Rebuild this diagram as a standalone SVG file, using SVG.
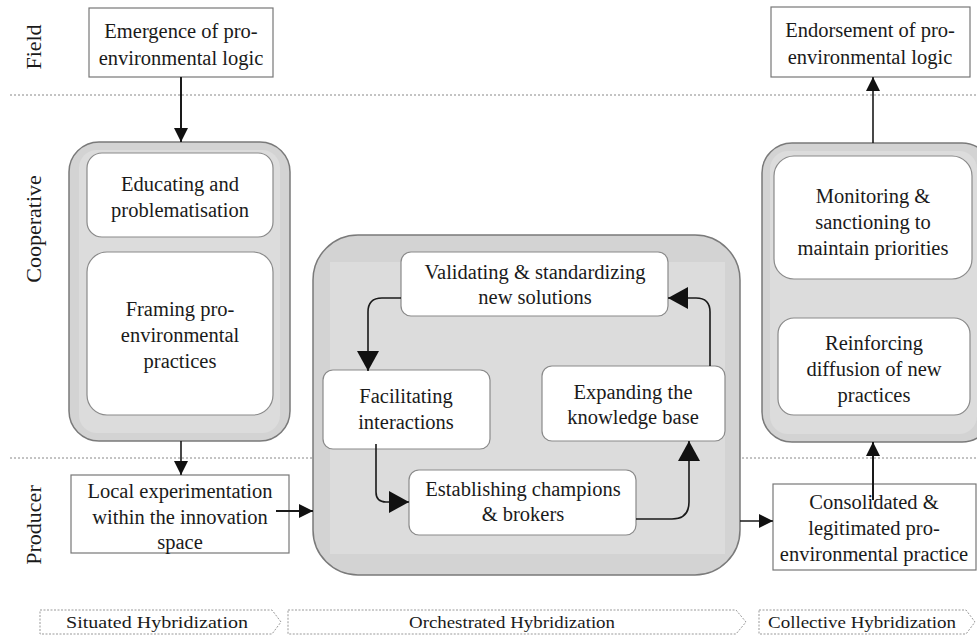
<svg xmlns="http://www.w3.org/2000/svg" width="977" height="638" viewBox="0 0 977 638">
<style>
text{font-family:"Liberation Serif","Times New Roman",serif;fill:#1a1a1a;font-size:20.5px;text-anchor:middle}
.lane{font-size:22px}
.phase{font-size:17px}
.box{fill:#fff;stroke:#777;stroke-width:1.2}
.rbox{fill:#fff;stroke:#8a8a8a;stroke-width:1.2}
.cont{fill:#d3d3d3;stroke:#7a7a7a;stroke-width:1.5}
.inner{fill:#dcdcdc}
.sep{stroke:#888;stroke-width:1;stroke-dasharray:2 2;fill:none}
.con{fill:none;stroke:#1a1a1a;stroke-width:1.6}
.conb{fill:none;stroke:#1a1a1a;stroke-width:2}
.ph{fill:#fff;stroke:#999;stroke-width:1;stroke-dasharray:2 1.5}
</style>
<defs>
<marker id="ah" markerUnits="userSpaceOnUse" markerWidth="14" markerHeight="14" viewBox="0 0 14 14" refX="14" refY="7" orient="auto">
<path d="M0,0 L14,7 L0,14 Z" fill="#111"/>
</marker>
<marker id="ahL" markerUnits="userSpaceOnUse" markerWidth="22" markerHeight="22" viewBox="0 0 22 22" refX="20" refY="11" orient="auto">
<path d="M0,0 L20,11 L0,22 Z" fill="#111"/>
</marker>
</defs>

<g id="lanes">
<line class="sep" x1="10" y1="95" x2="977" y2="95"/>
<line class="sep" x1="10" y1="458" x2="977" y2="458"/>
<text class="lane" transform="translate(41,47) rotate(-90)">Field</text>
<text class="lane" transform="translate(41,229) rotate(-90)">Cooperative</text>
<text class="lane" transform="translate(41,525) rotate(-90)">Producer</text>
</g>

<g id="cont-left">
<rect class="cont" x="69" y="142" width="221" height="299" rx="30"/>
<rect class="inner" x="79" y="150" width="201" height="283" rx="18"/>
</g>
<g id="cont-mid">
<rect class="cont" x="313" y="235" width="427" height="340" rx="45"/>
<rect class="inner" x="330" y="262" width="395" height="292"/>
</g>
<g id="cont-right">
<rect class="cont" x="762" y="143" width="230" height="299" rx="30"/>
<rect class="inner" x="770" y="151" width="207" height="283" rx="18"/>
</g>

<g id="n-emergence">
<rect class="box" x="89" y="8" width="184" height="69"/>
<text x="181" y="38">Emergence of pro-</text>
<text x="181" y="65">environmental logic</text>
</g>
<g id="n-endorsement">
<rect class="box" x="771" y="7" width="199" height="70"/>
<text x="870" y="37">Endorsement of pro-</text>
<text x="870" y="64">environmental logic</text>
</g>
<g id="n-educating">
<rect class="rbox" x="87" y="153" width="186" height="84" rx="15"/>
<text x="180" y="191">Educating and</text>
<text x="180" y="217">problematisation</text>
</g>
<g id="n-framing">
<rect class="rbox" x="87" y="252" width="186" height="163" rx="20"/>
<text x="180" y="316">Framing pro-</text>
<text x="180" y="342">environmental</text>
<text x="180" y="368">practices</text>
</g>
<g id="n-local">
<rect class="box" x="71" y="475" width="218" height="78"/>
<text x="180" y="498">Local experimentation</text>
<text x="180" y="524">within the innovation</text>
<text x="180" y="549">space</text>
</g>
<g id="n-validating">
<rect class="rbox" x="401" y="252" width="267" height="64" rx="10"/>
<text x="535" y="279">Validating &amp; standardizing</text>
<text x="535" y="304">new solutions</text>
</g>
<g id="n-facilitating">
<rect class="rbox" x="323" y="370" width="167" height="79" rx="10"/>
<text x="406" y="403">Facilitating</text>
<text x="406" y="429">interactions</text>
</g>
<g id="n-expanding">
<rect class="rbox" x="542" y="366" width="183" height="75" rx="10"/>
<text x="633" y="399">Expanding the</text>
<text x="633" y="424">knowledge base</text>
</g>
<g id="n-establishing">
<rect class="rbox" x="409" y="470" width="227" height="65" rx="10"/>
<text x="523" y="496">Establishing champions</text>
<text x="523" y="521">&amp; brokers</text>
</g>
<g id="n-monitoring">
<rect class="rbox" x="774" y="156" width="198" height="123" rx="20"/>
<text x="873" y="203">Monitoring &amp;</text>
<text x="873" y="229">sanctioning to</text>
<text x="873" y="255">maintain priorities</text>
</g>
<g id="n-reinforcing">
<rect class="rbox" x="778" y="318" width="192" height="97" rx="16"/>
<text x="874" y="350">Reinforcing</text>
<text x="874" y="376">diffusion of new</text>
<text x="874" y="402">practices</text>
</g>
<g id="n-consolidated">
<rect class="box" x="773" y="484" width="203" height="86"/>
<text x="874" y="509">Consolidated &amp;</text>
<text x="874" y="535">legitimated pro-</text>
<text x="874" y="561">environmental practice</text>
</g>

<g id="connectors">
<line class="conb" x1="181" y1="77" x2="181" y2="142" marker-end="url(#ah)"/>
<line class="con" x1="181" y1="441" x2="181" y2="475" marker-end="url(#ah)"/>
<line class="conb" x1="276" y1="511" x2="313" y2="511" marker-end="url(#ah)"/>
<line class="con" x1="740" y1="521" x2="773" y2="521" marker-end="url(#ah)"/>
<line class="conb" x1="873" y1="500" x2="873" y2="442" marker-end="url(#ah)"/>
<line class="con" x1="873" y1="143" x2="873" y2="77" marker-end="url(#ah)"/>
<path class="con" d="M401,298 H382 Q368,298 368,312 V371" marker-end="url(#ahL)"/>
<path class="con" d="M376,444 V492 Q376,502 386,502 H409" marker-end="url(#ahL)"/>
<path class="con" d="M636,519 H672 Q689,519 689,502 V441" marker-end="url(#ahL)"/>
<path class="con" d="M710,366 V312 Q710,298 696,298 H668" marker-end="url(#ahL)"/>
</g>

<g id="phases">
<path class="ph" d="M40,610 H272 L281,622 L272,634 H40 Z"/>
<text class="phase" x="157" y="628" textLength="182" lengthAdjust="spacingAndGlyphs">Situated Hybridization</text>
<path class="ph" d="M288,610 H736 L746,622 L736,634 H288 Z"/>
<text class="phase" x="512" y="628" textLength="206" lengthAdjust="spacingAndGlyphs">Orchestrated Hybridization</text>
<path class="ph" d="M759,610 H966 L975,622 L966,634 H759 Z"/>
<text class="phase" x="862" y="628" textLength="188" lengthAdjust="spacingAndGlyphs">Collective Hybridization</text>
</g>
</svg>
